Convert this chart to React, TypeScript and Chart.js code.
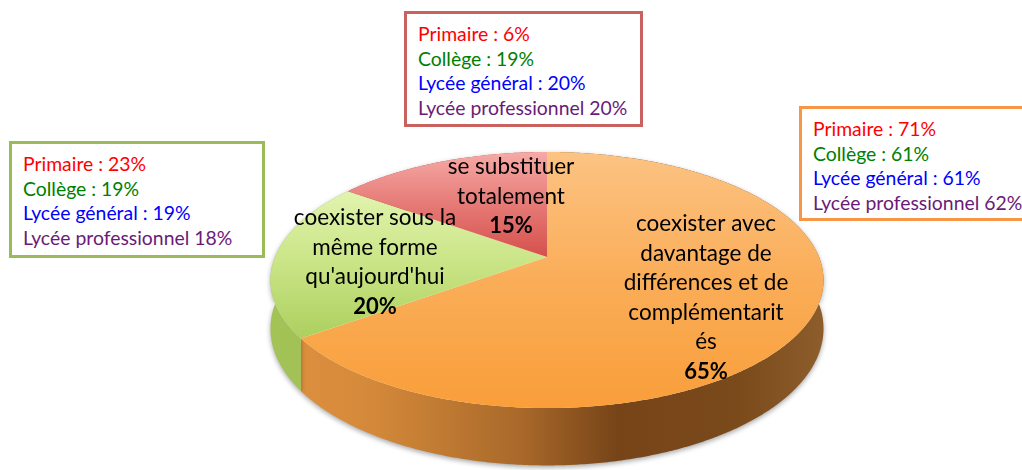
import React, { useEffect, useRef } from "react";
import { Chart, registerables } from "chart.js";

Chart.register(...registerables);

// ---- data ----
const categories = [
  "coexister avec davantage de différences et de complémentarités",
  "coexister sous la même forme qu'aujourd'hui",
  "se substituer totalement",
];
const values = [65, 20, 15];
const sliceLabelLines = [
  ["coexister avec", "davantage de", "différences et de", "complémentarit", "és"],
  ["coexister sous la", "même forme", "qu'aujourd'hui"],
  ["se substituer", "totalement"],
];
const levelNames = ["Primaire : ", "Collège : ", "Lycée général : ", "Lycée professionnel "];
const levelColors = ["#ff0000", "#008000", "#0000ff", "#6b1a78"];
const orangeLevels = [71, 61, 61, 62];
const greenLevels = [23, 19, 19, 18];
const redLevels = [6, 19, 20, 20];

// ---- styles ----
const FONT = "Lato, 'Open Sans', sans-serif";
const topGrad = [
  ["#fcc383", "#faad58", "#f99e3a"],
  ["#e4f6b4", "#c9e485", "#a9cd5b"],
  ["#f6aaa6", "#e67a76", "#d5504c"],
];
const KX = 272 / 120;
const KY = 123.9 / 120;
const KD = 47 / 120;
const PERSP = 0.18;
// label centres (layout)
const labelPos = [
  { x: 706, y: 224 },
  { x: 375, y: 218 },
  { x: 511, y: 167 },
];
const LINE_H = 29.5;

const pie3d = {
  id: "pie3d",
  beforeDatasetsDraw(chart: any) {
    const meta = chart.getDatasetMeta(0);
    const ctx: CanvasRenderingContext2D = chart.ctx;
    const arcs = meta.data as any[];
    if (!arcs.length) return false;
    const cx = arcs[0].x;
    const cy = arcs[0].y;
    const R = arcs[0].outerRadius;
    const B = R * KX;
    const A = R * KY;
    const H = R * KD;
    const p = PERSP;
    const proj = (t: number, rr: number, h: number) => {
      const s = Math.sin(t);
      const c = Math.cos(t);
      const f = 1 / (1 - p * s * rr);
      return [cx + B * c * rr * f, cy + (A * s * rr + h) * f];
    };
    const step = Math.PI / 360;
    const topY = cy - A / (1 + p);
    const botY = cy + A / (1 - p);

    // side walls
    const sideFills: any[] = [];
    const og = ctx.createLinearGradient(cx - B, 0, cx + B, 0);
    og.addColorStop(0, "#df913e");
    og.addColorStop(0.18, "#d4893a");
    og.addColorStop(0.45, "#a9692a");
    og.addColorStop(0.63, "#774418");
    og.addColorStop(0.85, "#7a4a1b");
    og.addColorStop(1, "#8c5c2b");
    sideFills.push(og);
    const gg = ctx.createLinearGradient(cx - B, 0, cx, 0);
    gg.addColorStop(0, "#a3c357");
    gg.addColorStop(1, "#93b34a");
    sideFills.push(gg);
    sideFills.push("#b5453f");

    ctx.save();
    ctx.shadowColor = "rgba(0,0,0,0.35)";
    ctx.shadowBlur = 5;
    ctx.shadowOffsetY = 2;
    arcs.forEach((arc, i) => {
      const s0 = arc.startAngle;
      const s1 = arc.endAngle;
      ctx.beginPath();
      let first = true;
      for (let t = s0; t <= s1 + 1e-9; t += step) {
        const [x, y] = proj(Math.min(t, s1), 1, 0);
        if (first) { ctx.moveTo(x, y); first = false; } else ctx.lineTo(x, y);
      }
      for (let t = s1; t >= s0 - 1e-9; t -= step) {
        const [x, y] = proj(Math.max(t, s0), 1, H);
        ctx.lineTo(x, y);
      }
      ctx.closePath();
      ctx.fillStyle = sideFills[i];
      ctx.fill();
    });
    ctx.restore();

    // top faces
    arcs.forEach((arc, i) => {
      const s0 = arc.startAngle;
      const s1 = arc.endAngle;
      ctx.beginPath();
      ctx.moveTo(cx, cy);
      for (let t = s0; t <= s1 + 1e-9; t += step) {
        const [x, y] = proj(Math.min(t, s1), 1, 0);
        ctx.lineTo(x, y);
      }
      const [xe, ye] = proj(s1, 1, 0);
      ctx.lineTo(xe, ye);
      ctx.closePath();
      let g;
      if (i === 2) g = ctx.createLinearGradient(0, topY, 0, cy);
      else if (i === 1) g = ctx.createLinearGradient(0, topY + 30, 0, cy + 90);
      else g = ctx.createLinearGradient(0, topY, 0, botY);
      g.addColorStop(0, topGrad[i][0]);
      g.addColorStop(0.5, topGrad[i][1]);
      g.addColorStop(1, topGrad[i][2]);
      ctx.fillStyle = g;
      ctx.fill();
    });

    // labels
    ctx.save();
    ctx.fillStyle = "#000";
    ctx.textAlign = "center";
    ctx.textBaseline = "middle";
    arcs.forEach((arc, i) => {
      const lines = sliceLabelLines[i];
      const pos = labelPos[i];
      ctx.font = `22.5px ${FONT}`;
      lines.forEach((ln, k) => ctx.fillText(ln, pos.x, pos.y + k * LINE_H));
      ctx.font = `bold 22px ${FONT}`;
      ctx.fillText(`${values[i]}%`, pos.x, pos.y + lines.length * LINE_H);
    });
    ctx.restore();
    return false;
  },
};

function Callout({ left, top, width, height, border, vals }: any) {
  return (
    <div
      style={{
        position: "absolute",
        left,
        top,
        width,
        height,
        boxSizing: "border-box",
        border: `3px solid ${border}`,
        background: "#fff",
        fontFamily: FONT,
        fontSize: 19.4,
        lineHeight: "24.5px",
        padding: "8px 0 0 11px",
        whiteSpace: "nowrap",
        overflow: "visible",
      }}
    >
      {levelNames.map((n, i) => (
        <div key={i} style={{ color: levelColors[i] }}>
          {n}
          {vals[i]}%
        </div>
      ))}
    </div>
  );
}

export default function App() {
  const ref = useRef<HTMLCanvasElement>(null);
  useEffect(() => {
    if (!ref.current) return;
    const chart = new Chart(ref.current, {
      type: "pie",
      data: {
        labels: categories,
        datasets: [
          {
            data: values,
            backgroundColor: ["#f99e3a", "#b5d56a", "#d9534f"],
            borderWidth: 0,
            hoverOffset: 0,
            offset: 0,
          },
        ],
      },
      options: {
        responsive: false,
        animation: false,
        events: [],
        layout: { padding: { left: 72, right: 0, top: 137, bottom: 93 } },
        plugins: { legend: { display: false }, tooltip: { enabled: false } },
      },
      plugins: [pie3d],
    } as any);
    return () => chart.destroy();
  }, []);
  return (
    <div style={{ position: "fixed", left: 0, top: 0, width: 1022, height: 470, background: "#fff", overflow: "hidden" }}>
      <canvas ref={ref} width={1022} height={470} style={{ position: "absolute", left: 0, top: 0 }} />
      <Callout left={404} top={11} width={239} height={116} border="#c9625e" vals={redLevels} />
      <Callout left={9} top={141} width={256} height={117} border="#9bbb59" vals={greenLevels} />
      <Callout left={799} top={106} width={240} height={115} border="#f79646" vals={orangeLevels} />
    </div>
  );
}
